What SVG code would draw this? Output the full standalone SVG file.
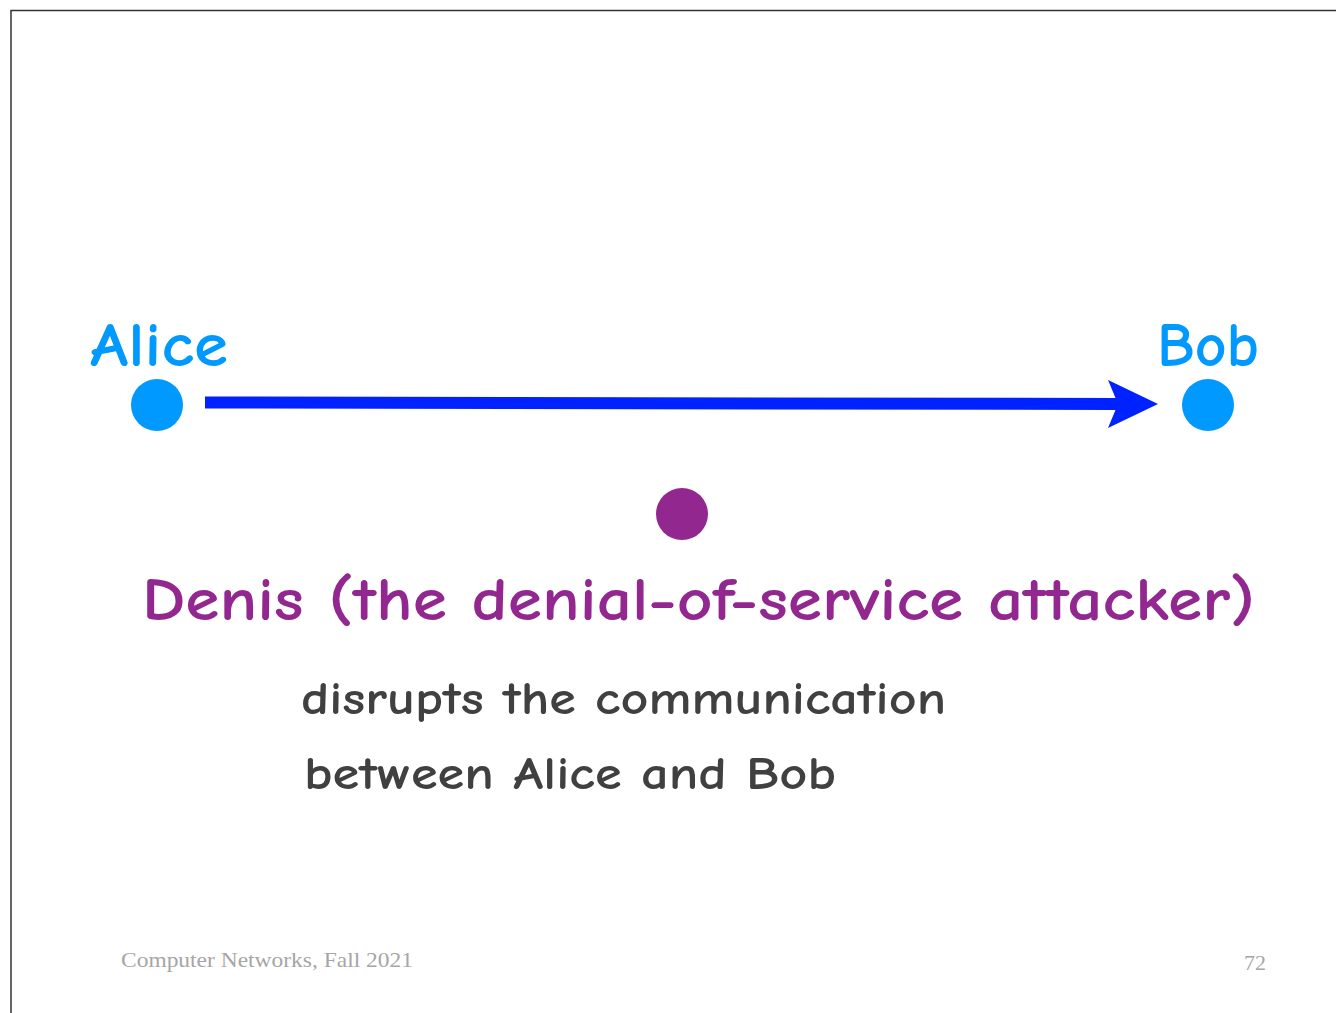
<svg xmlns="http://www.w3.org/2000/svg" width="1336" height="1013" viewBox="0 0 1336 1013">
<style>
.hand{font-family:"Comic Sans MS","Comic Neue","Open Sans","DejaVu Sans",sans-serif;font-weight:700;}
.blue{fill:#0099ff;}
.purple{fill:#92278f;}
.dark{fill:#404040;}
.foot{font-family:"Liberation Serif","Times New Roman",serif;fill:#a6a6a6;}
</style>
<defs>
<marker id="ah" viewBox="0 0 50 48" refX="10" refY="24" markerWidth="50" markerHeight="48" markerUnits="userSpaceOnUse" orient="auto">
<path d="M0,0 L50,24 L0,48 L10,24 Z" fill="#0022ff"/>
</marker>
</defs>
<rect width="1336" height="1013" fill="#ffffff"/>
<path d="M11,1013 L11,10.5 L1336,10.5" fill="none" stroke="#333333" stroke-width="1.5"/>
<g id="connectors">
<line x1="205" y1="402.5" x2="1118" y2="404" stroke="#0022ff" stroke-width="12" marker-end="url(#ah)"/>
</g>
<g id="alice">
<circle cx="157" cy="405" r="26" class="blue"/>
<text x="90" y="366" class="hand blue" font-size="63" textLength="138" lengthAdjust="spacingAndGlyphs">Alice</text>
</g>
<g id="bob">
<circle cx="1208" cy="405" r="26" class="blue"/>
<text x="1157" y="366" class="hand blue" font-size="63" textLength="102" lengthAdjust="spacingAndGlyphs">Bob</text>
</g>
<g id="denis">
<circle cx="682" cy="514" r="26" class="purple"/>
<text x="142" y="620" class="hand purple" font-size="60" textLength="1113" lengthAdjust="spacingAndGlyphs">Denis (the denial-of-service attacker)</text>
</g>
<g id="description">
<text x="301" y="714" class="hand dark" font-size="47" textLength="645" lengthAdjust="spacingAndGlyphs">disrupts the communication</text>
<text x="304" y="789" class="hand dark" font-size="47" textLength="532" lengthAdjust="spacingAndGlyphs">between Alice and Bob</text>
</g>
<g id="footer">
<text x="121" y="967" class="foot" font-size="22" textLength="292" lengthAdjust="spacingAndGlyphs">Computer Networks, Fall 2021</text>
<text x="1244" y="970" class="foot" font-size="20" textLength="22" lengthAdjust="spacingAndGlyphs">72</text>
</g>
</svg>
